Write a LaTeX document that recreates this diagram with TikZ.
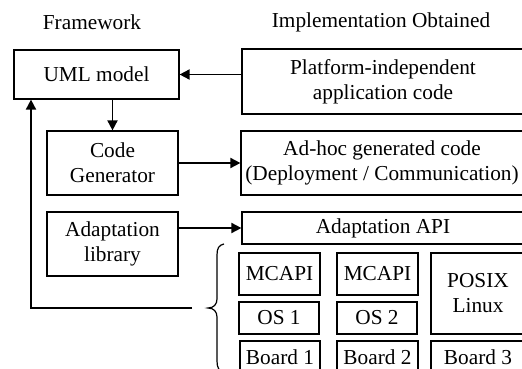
\documentclass[tikz,border=0pt]{standalone}
\usepackage{fontspec}
\setmainfont{Liberation Serif}
\usetikzlibrary{arrows.meta}
\begin{document}
\begin{tikzpicture}[x=1pt,y=-1pt,
  box/.style={draw=black,line width=1.2pt,rectangle,inner sep=1pt,align=center,
    font=\fontsize{21.3}{25}\selectfont},
  lbl/.style={font=\fontsize{21.3}{25}\selectfont,inner sep=0pt},
  arr/.style={line width=1.8pt,-{Triangle[length=10pt,width=10pt]}},
  conn/.style={line width=1.8pt}]
\useasboundingbox (0,0) rectangle (522,369);
\clip (0,0) rectangle (522,369);
\node[lbl] (fw) at (92,22) {Framework};
\node[lbl] (io) at (381,22) {Implementation Obtained};
\node[box,minimum width=165pt,minimum height=49pt] (uml) at (96.5,74.5) {UML model};
\node[box,minimum width=282pt,minimum height=65pt] (plat) at (383,81.5) {Platform-independent\\application code};
\node[box,minimum width=131pt,minimum height=64pt] (cg) at (112.5,163) {Code\\Generator};
\node[box,minimum width=282pt,minimum height=64pt] (adhoc) at (382,163) {Ad-hoc generated code\\(Deployment / Communication)};
\node[box,minimum width=131pt,minimum height=64pt] (lib) at (112.5,244) {Adaptation\\library};
\node[box,minimum width=282pt,minimum height=32pt] (api) at (383,228) {Adaptation API};
\node[box,minimum width=81pt,minimum height=42pt] (m1) at (279.5,274) {MCAPI};
\node[box,minimum width=80pt,minimum height=32pt] (o1) at (279,318) {OS 1};
\node[box,minimum width=80pt,minimum height=32pt] (b1) at (280,357) {Board 1};
\node[box,minimum width=81pt,minimum height=42pt] (m2) at (377.5,274) {MCAPI};
\node[box,minimum width=80pt,minimum height=32pt] (o2) at (377,318) {OS 2};
\node[box,minimum width=81pt,minimum height=32pt] (b2) at (377.5,357) {Board 2};
\node[box,minimum width=94pt,minimum height=81pt] (px) at (478,293.5) {POSIX\\Linux};
\node[box,minimum width=94pt,minimum height=32pt] (b3) at (478,357) {Board 3};
\draw[arr] (plat.west |- uml.east) -- (uml.east);
\draw[arr] (uml.south -| cg.north) -- (cg.north);
\draw[arr] (cg.east) -- (cg.east -| adhoc.west);
\draw[arr] (api.west -| lib.east) -- (api.west);
\coordinate (c1) at (31,308);
\coordinate (c2) at (192,308);
\draw[arr] (c2) -- (c1) -- (c1 |- uml.south);
\draw[line width=1.2pt] (224,244) .. controls (219,245) and (217,248) .. (217,255)
  -- (217,299) .. controls (217,304) and (214,308) .. (208,308)
  .. controls (214,308) and (217,312) .. (217,317)
  -- (217,361) .. controls (217,368) and (219,371) .. (224,372);
\end{tikzpicture}
\end{document}
